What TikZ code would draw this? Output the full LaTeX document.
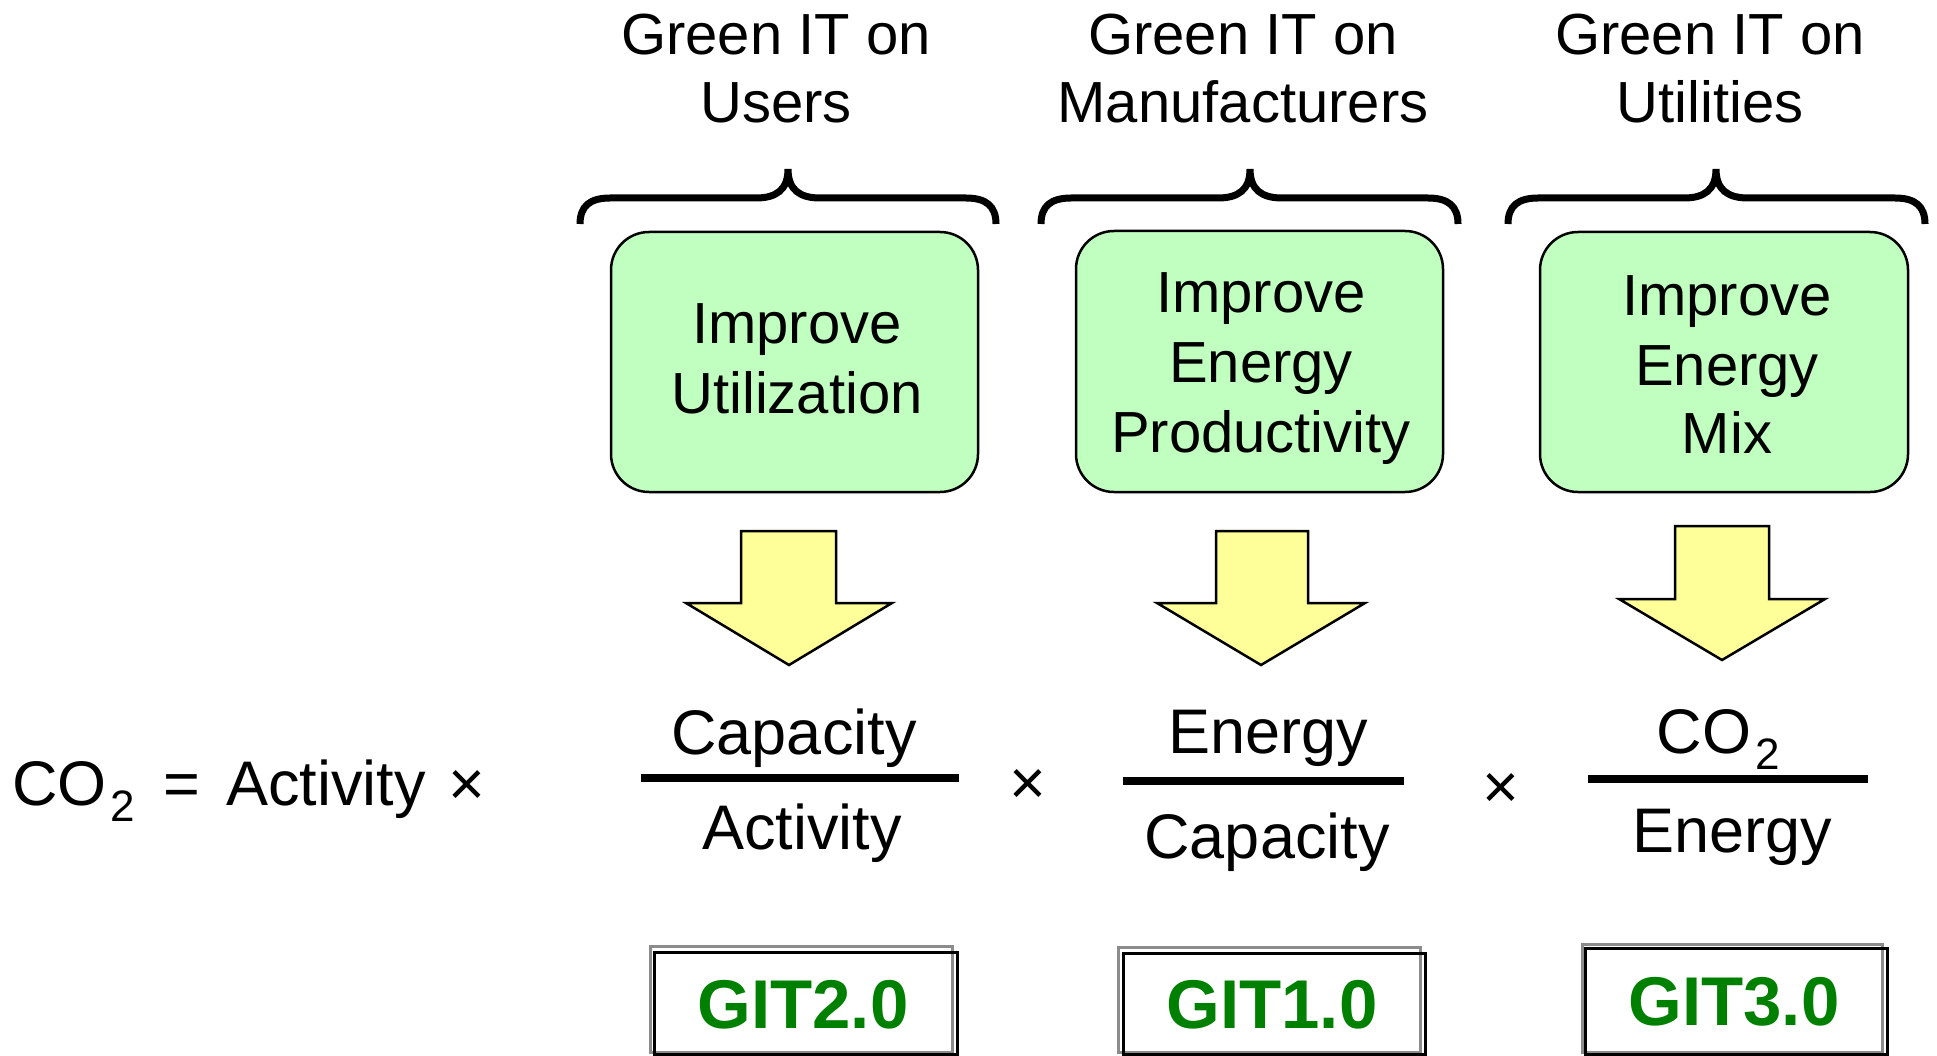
\documentclass[tikz,border=0pt]{standalone}
\usepackage{fontspec}
\setmainfont{Liberation Sans}
\definecolor{boxgreen}{HTML}{C0FFC0}
\definecolor{arrowyellow}{HTML}{FFFF99}
\definecolor{gitgreen}{HTML}{008000}
\tikzset{
  ttl/.style={inner sep=0pt, anchor=base, font=\fontsize{58}{69}\selectfont},
  boxtxt/.style={inner sep=0pt, anchor=base, font=\fontsize{58}{69}\selectfont},
  eqtxt/.style={inner sep=0pt, anchor=base, font=\fontsize{63}{75}\selectfont},
  gbox/.style={draw=black, line width=2.5pt, fill=boxgreen, rounded corners=38pt, inner sep=0pt},
  blockarrow/.style={draw=black, line width=2.5pt, fill=arrowyellow, line join=miter},
  bracestyle/.style={line width=7pt},
  fracline/.style={line width=8pt},
  gitgray/.style={draw=black!45, line width=3pt},
  gitblack/.style={draw=black, line width=3pt},
  gittext/.style={inner sep=0pt, anchor=base, text=gitgreen, font=\fontsize{69}{80}\selectfont\bfseries},
}
\newcommand{\cotwo}{CO\kern4pt\raisebox{-16pt}{\fontsize{44}{44}\selectfont 2}}
\begin{document}
\begin{tikzpicture}[x=1pt,y=-1pt]
\useasboundingbox (0,0) rectangle (1937,1056);

% titles
\node[ttl] (t1a) at (776,55) {Green IT on};
\node[ttl] (t1b) at (776,123) {Users};
\node[ttl] (t2a) at (1243,55) {Green IT on};
\node[ttl] (t2b) at (1243,123) {Manufacturers};
\node[ttl] (t3a) at (1710,55) {Green IT on};
\node[ttl] (t3b) at (1710,123) {Utilities};

% braces
\foreach \l/\c/\r in {580/788/996, 1041/1250/1458, 1508/1716/1925}{
  \draw[bracestyle] (\l,224) .. controls (\l,206) and (\l+10,198) .. (\l+30,198)
    -- (\c-32,198) .. controls (\c-12,198) and (\c,190) .. (\c,169)
    .. controls (\c,190) and (\c+12,198) .. (\c+32,198)
    -- (\r-30,198) .. controls (\r-10,198) and (\r,206) .. (\r,224);
}

% green boxes
\node[gbox, minimum width=367pt, minimum height=260pt] (b1) at (794.5,362) {};
\node[gbox, minimum width=367pt, minimum height=261pt] (b2) at (1259.5,361.5) {};
\node[gbox, minimum width=368pt, minimum height=260pt] (b3) at (1724,362) {};

\node[boxtxt] (b1a) at (797,343) {Improve};
\node[boxtxt] (b1b) at (797,413) {Utilization};
\node[boxtxt] (b2a) at (1261,313) {Improve};
\node[boxtxt] (b2b) at (1261,382) {Energy};
\node[boxtxt] (b2c) at (1261,452) {Productivity};
\node[boxtxt] (b3a) at (1727,316) {Improve};
\node[boxtxt] (b3b) at (1727,385) {Energy};
\node[boxtxt] (b3c) at (1727,453) {Mix};

% block arrows
\draw[blockarrow] (741,531) -- (836,531) -- (836,603) -- (892,603) -- (789,665) -- (686,603) -- (741,603) -- cycle;
\draw[blockarrow] (1216,531) -- (1308,531) -- (1308,603) -- (1365,603) -- (1261,665) -- (1157,603) -- (1216,603) -- cycle;
\draw[blockarrow] (1675,526) -- (1769,526) -- (1769,599) -- (1825,599) -- (1722,660) -- (1619,599) -- (1675,599) -- cycle;

% left part of equation
\node[eqtxt, anchor=base west] (co2) at (12,805) {\cotwo};
\node[eqtxt] (eq) at (182,805) {=};
\node[eqtxt, anchor=base west] (act) at (226,805) {Activity};
\node[eqtxt] (x0) at (467,805) {×};

% fractions
\node[eqtxt] (n1) at (794,754) {Capacity};
\draw[fracline] (641,778) -- (959,778);
\node[eqtxt] (d1) at (802,849) {Activity};
\node[eqtxt] (x1) at (1028,804) {×};
\node[eqtxt] (n2) at (1268,753) {Energy};
\draw[fracline] (1123,781) -- (1404,781);
\node[eqtxt] (d2) at (1267,858) {Capacity};
\node[eqtxt] (x2) at (1501,808) {×};
\node[eqtxt] (n3) at (1718,753) {\cotwo};
\draw[fracline] (1588,779) -- (1868,779);
\node[eqtxt] (d3) at (1732,852) {Energy};

% GIT boxes
\draw[gitgray] (650,946) rectangle (952,1052);
\draw[gitblack] (654,952) rectangle (957,1054.5);
\node[gittext] (g2) at (803,1028) {GIT2.0};
\draw[gitgray] (1118,947) rectangle (1420,1052);
\draw[gitblack] (1123,953) rectangle (1425,1054.5);
\node[gittext] (g1) at (1272,1028) {GIT1.0};
\draw[gitgray] (1582,944) rectangle (1882,1052);
\draw[gitblack] (1585,948) rectangle (1887,1054.5);
\node[gittext] (g3) at (1734,1025) {GIT3.0};
\end{tikzpicture}
\end{document}
